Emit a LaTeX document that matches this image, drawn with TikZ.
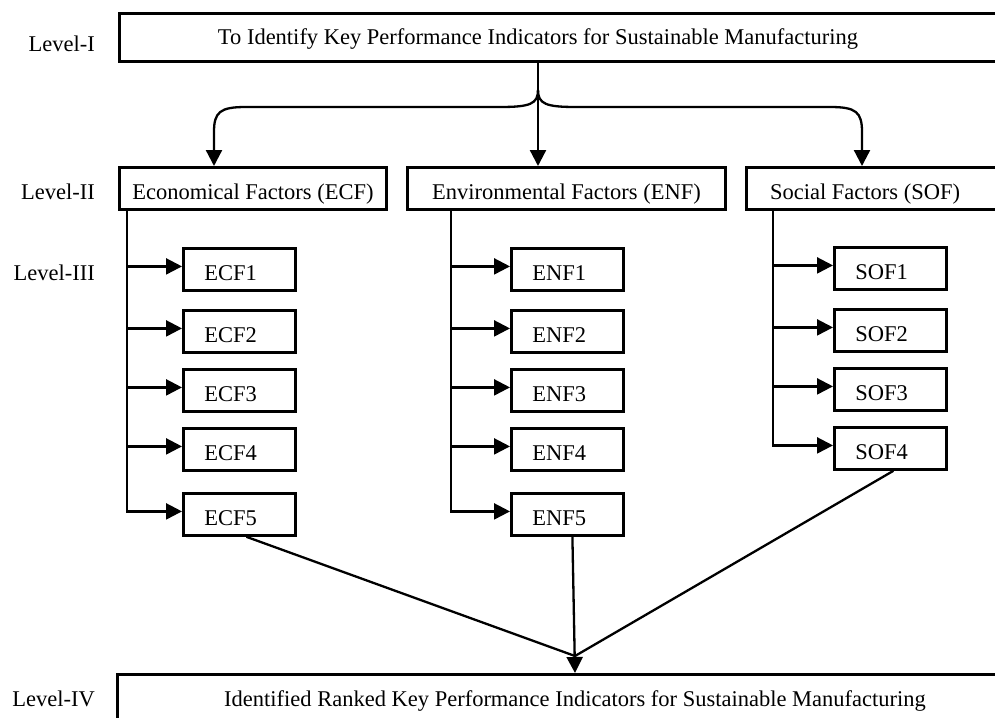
\documentclass[tikz,border=0pt]{standalone}
\usepackage{fontspec}
\setmainfont{Liberation Serif}
\usetikzlibrary{arrows.meta,calc}
\begin{document}
\begin{tikzpicture}[x=1pt,y=-1pt,
  every node/.style={font=\fontsize{22.5}{27}\selectfont, inner sep=0pt},
  box/.style={draw, line width=2.8pt},
  lbl/.style={text height=14.9pt, text depth=0pt},
  midbox/.style={box, minimum height=42pt, text height=21.8pt, text depth=0pt},
  sbox/.style={box, minimum height=42pt, inner xsep=21pt, text width=70pt, align=left,
               text height=21.8pt, text depth=0pt, anchor=north west},
  ln/.style={line width=2.3pt},
  arr/.style={ln, -{Triangle[length=16pt,width=16pt]}}]
\useasboundingbox (0,0) rectangle (995,717);
\clip (0,0) rectangle (995,717);

% level labels
\node[lbl, anchor=east] (l1) at (95,44) {Level-I};
\node[lbl, anchor=east] (l2) at (95,192.5) {Level-II};
\node[lbl, anchor=east] (l3) at (95,273.5) {Level-III};
\node[lbl, anchor=east] (l4) at (95,699) {Level-IV};

% level I
\node[box, anchor=north west, minimum width=900pt, minimum height=48pt] (top) at (118,12) {};
\node[lbl] (toptext) at (538,37.5) {To Identify Key Performance Indicators for Sustainable Manufacturing};

% level II
\node[midbox, anchor=north west, minimum width=267pt] (ecf) at (118,166) {Economical Factors (ECF)};
\node[midbox, anchor=north west, minimum width=318pt] (enf) at (406,166) {Environmental Factors (ENF)};
\node[box, anchor=north west, minimum width=300pt, minimum height=42pt] (sof) at (745,166) {};
\node[lbl] (softext) at (865,192) {Social Factors (SOF)};

% level III
\foreach \i/\yy in {1/247,2/309,3/368,4/427,5/492} {
  \node[sbox] (ecf\i) at (182,\yy) {ECF\i};
  \node[sbox] (enf\i) at (510,\yy) {ENF\i};
}
\foreach \i/\yy in {1/246,2/308,3/367,4/426} {
  \node[sbox] (sof\i) at (833,\yy) {SOF\i};
}

% level IV
\node[box, anchor=north west, minimum width=950pt, minimum height=100pt] (bot) at (116,673) {};
\node[lbl] (bottext) at (575,699) {Identified Ranked Key Performance Indicators for Sustainable Manufacturing};

% brace from level I
\coordinate (split) at (538,90);
\coordinate (lbr) at (214,107);
\coordinate (rbr) at (862,107);
\draw[arr] (split |- top.south) -- (split |- enf.north);
\draw[arr] (split) .. controls (538,104) and (530,107) .. (500,107) -- (246,107)
  .. controls (220,107) and (214,112) .. (214,132) -- (lbr |- ecf.north);
\draw[arr] (split) .. controls (538,104) and (546,107) .. (576,107) -- (830,107)
  .. controls (856,107) and (862,112) .. (862,132) -- (rbr |- sof.north);

% branches
\coordinate (ecfv) at (127,0);
\coordinate (enfv) at (451,0);
\coordinate (sofv) at (773,0);
\draw[arr] (ecfv |- ecf.south) |- ($(ecf5.west)+(0pt,3pt)$);
\draw[arr] (enfv |- enf.south) |- ($(enf5.west)+(0pt,3pt)$);
\draw[arr] (sofv |- sof.south) |- ($(sof4.west)+(0pt,3pt)$);
\foreach \i in {1,...,4} {
  \draw[arr] ($(ecf\i.west -| ecfv)+(0pt,3pt)$) -- ($(ecf\i.west)+(0pt,3pt)$);
  \draw[arr] ($(enf\i.west -| enfv)+(0pt,3pt)$) -- ($(enf\i.west)+(0pt,3pt)$);
}
\foreach \i in {1,...,3} {
  \draw[arr] ($(sof\i.west -| sofv)+(0pt,3pt)$) -- ($(sof\i.west)+(0pt,3pt)$);
}

% convergence
\coordinate (cx) at (575,0);
\coordinate (meet) at (575,656);
\draw[ln] ($(ecf5.south)+(7pt,0pt)$) -- (meet);
\draw[ln] ($(sof4.south)+(3pt,0pt)$) -- (meet);
\draw[arr] ($(enf5.south)+(5pt,0pt)$) -- (cx |- bot.north);
\end{tikzpicture}
\end{document}
